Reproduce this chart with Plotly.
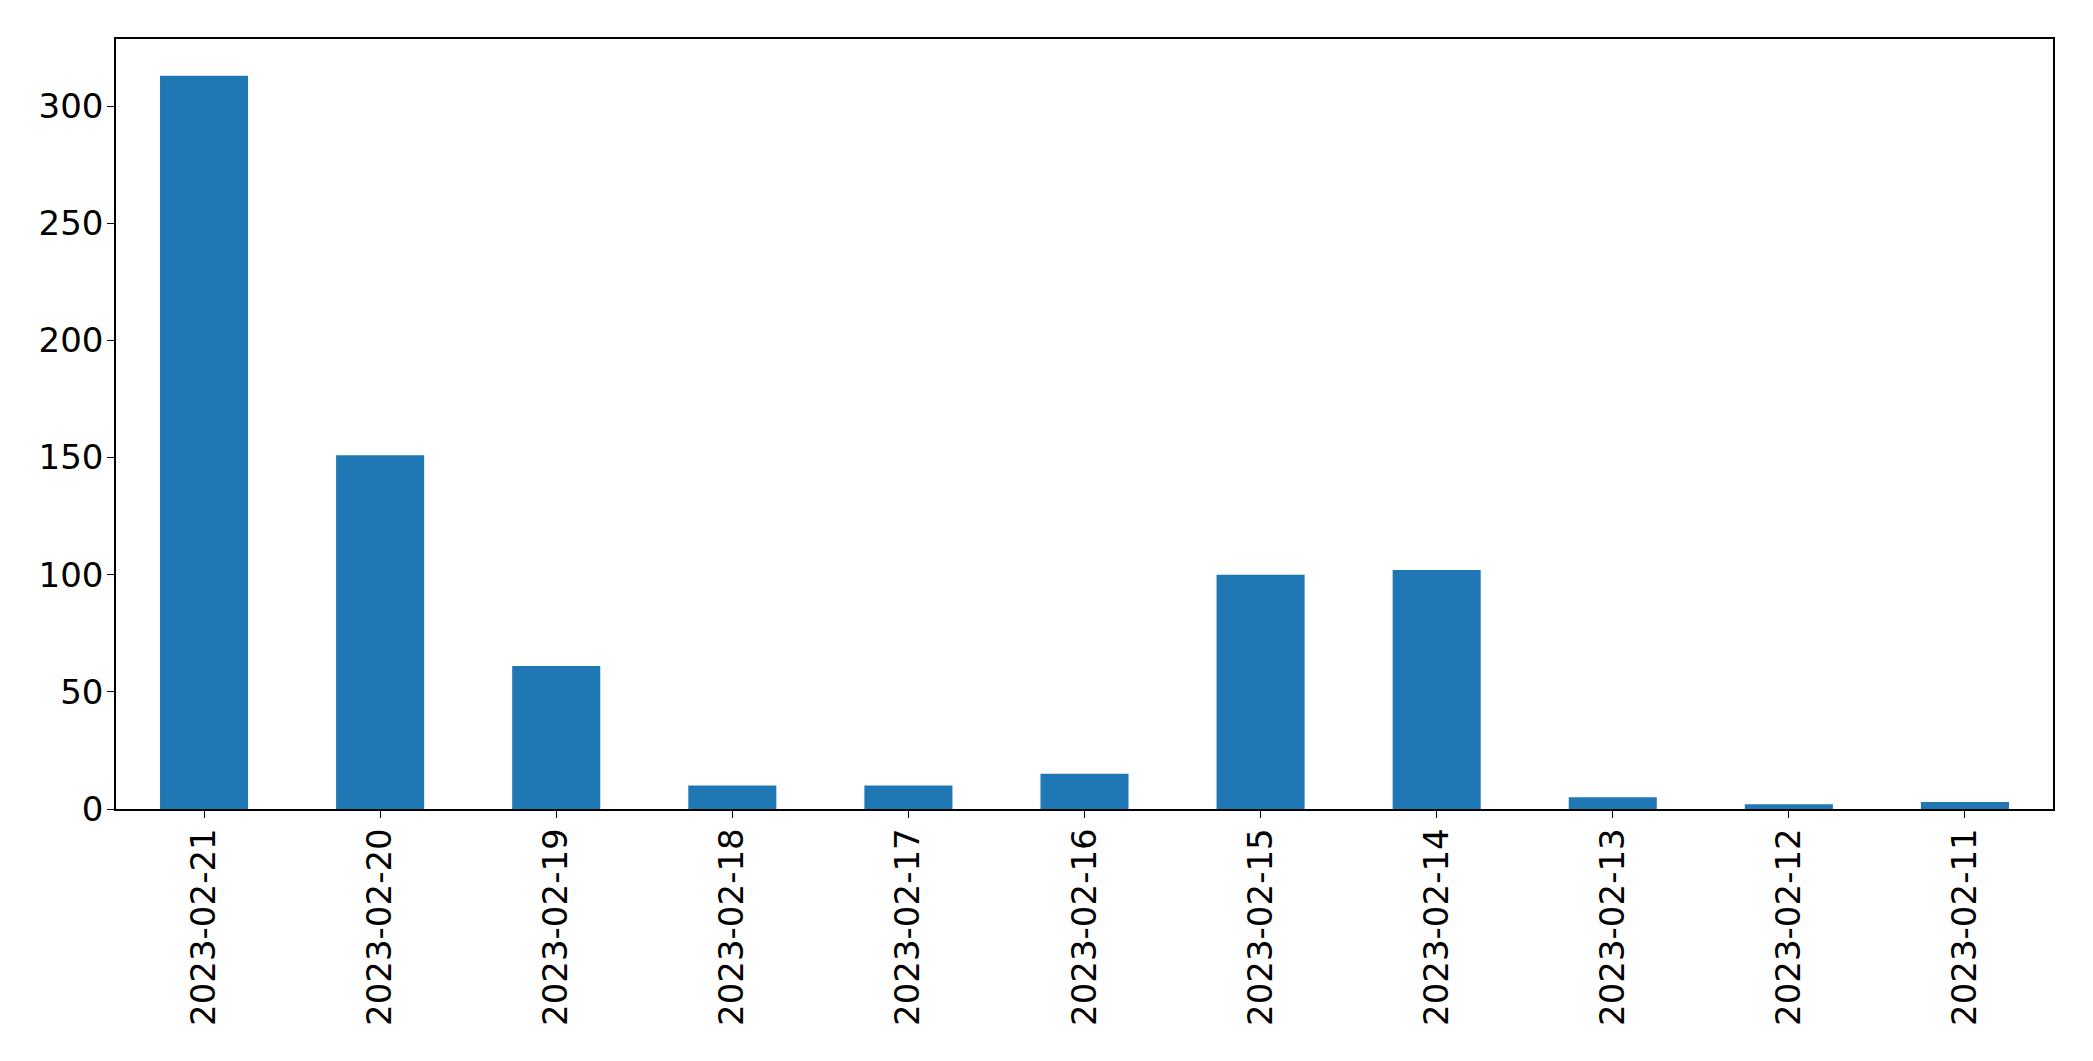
import plotly.graph_objects as go

dates = ["2023-02-21", "2023-02-20", "2023-02-19", "2023-02-18", "2023-02-17", "2023-02-16",
         "2023-02-15", "2023-02-14", "2023-02-13", "2023-02-12", "2023-02-11"]
counts = [313, 151, 61, 10, 10, 15, 100, 102, 5, 2, 3]
y_ticks = [0, 50, 100, 150, 200, 250, 300]

fig = go.Figure(go.Bar(x=dates, y=counts, marker=dict(color="#1f77b4", line=dict(width=0)), width=0.5))

font = dict(family="DejaVu Sans", size=34, color="black")
# the page body adds an 8px offset, compensated in width/height and margins
fig.update_layout(
    width=2085, height=1053,
    margin=dict(l=108, r=40, t=31, b=252, autoexpand=False),
    paper_bgcolor="white", plot_bgcolor="white",
    showlegend=False, bargap=0.5,
)
fig.update_xaxes(
    type="category", range=[-0.5, 10.5], automargin=False,
    showline=True, mirror=True, linecolor="black", linewidth=1.5,
    ticks="outside", ticklen=7, tickwidth=1.2, tickcolor="black",
    tickangle=-90, tickfont=font, showgrid=False, zeroline=False,
    ticklabelstandoff=-3,
)
fig.update_yaxes(
    range=[0, 313 * 1.05], tickvals=y_ticks, automargin=False,
    showline=True, mirror=True, linecolor="black", linewidth=1.5,
    ticks="outside", ticklen=7, tickwidth=1.2, tickcolor="black",
    tickfont=font, showgrid=False, zeroline=False,
    ticklabelstandoff=-3,
)
fig.write_html("out.html")
